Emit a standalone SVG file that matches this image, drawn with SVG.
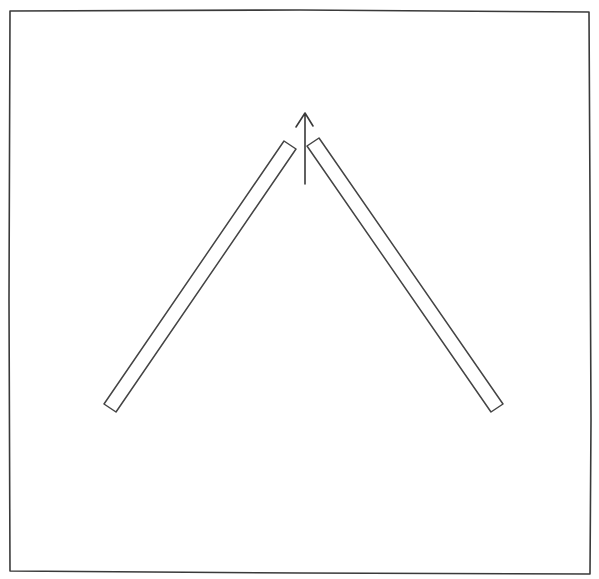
<svg xmlns="http://www.w3.org/2000/svg" width="599" height="579" viewBox="0 0 599 579">
<style>
.ln{fill:none;stroke:#3a3a3a;stroke-width:1.6;stroke-linejoin:round;stroke-linecap:round}
.bar{fill:#ffffff;stroke:#444;stroke-width:1.5;stroke-linejoin:round}
</style>
<rect width="599" height="579" fill="#ffffff"/>
<g id="frame">
<path class="ln" d="M10,11 L300,10 L589,12 L590,200 L591,420 L590,574 L300,573 L10,571 L9,300 Z"/>
</g>
<g id="left-bar">
<polygon class="bar" points="104,404 284,141 296,149 116,412"/>
</g>
<g id="right-bar">
<polygon class="bar" points="307,146 319,138 503,404 491,412"/>
</g>
<g id="connectors">
<path class="ln" d="M305,184 L305,113 M296,127 L305,113 L313,126"/>
</g>
</svg>
